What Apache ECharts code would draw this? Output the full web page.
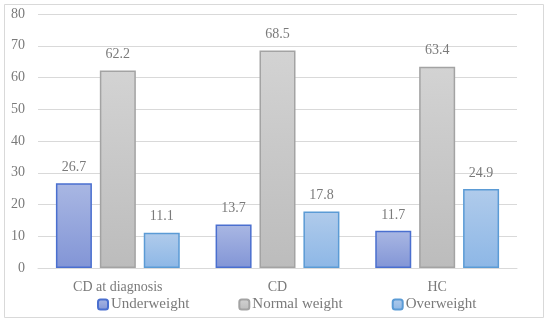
<!DOCTYPE html>
<html><head><meta charset="utf-8">
<script src="https://cdn.jsdelivr.net/npm/echarts@6/dist/echarts.min.js"></script>
<style>html,body{margin:0;padding:0;background:#fff}#c{width:550px;height:323px}</style>
</head><body><div id="c"></div>
<script>
const categories = ['CD at diagnosis', 'CD', 'HC'];
const underweight = [26.7, 13.7, 11.7];
const normalWeight = [62.2, 68.5, 63.4];
const overweight = [11.1, 17.8, 24.9];
const yTicks = [0, 10, 20, 30, 40, 50, 60, 70, 80];

const font = '"Liberation Serif", "DejaVu Serif", serif';
const txt = '#7a7a7a';
function grad(a, b) {
  return new echarts.graphic.LinearGradient(0, 0, 0, 1, [{offset: 0, color: a}, {offset: 1, color: b}]);
}
const lbl = {show: true, position: 'top', distance: 9, color: txt, fontFamily: font, fontSize: 14};
const chart = echarts.init(document.getElementById('c'));
chart.setOption({
  animation: false,
  graphic: [{type: 'rect', shape: {x: 4.5, y: 4.5, width: 539, height: 313}, style: {fill: 'none', stroke: '#d9d9d9', lineWidth: 1}, silent: true}],
  grid: {left: 38, right: 33, top: 14, bottom: 55, containLabel: false},
  legend: {
    top: 292, left: 92, itemWidth: 10, itemHeight: 10, itemGap: 49,
    textStyle: {color: txt, fontFamily: font, fontSize: 15, padding: [0, 0, 0, -2]},
    data: ['Underweight', 'Normal weight', 'Overweight']
  },
  xAxis: {
    type: 'category', data: categories,
    axisLine: {lineStyle: {color: '#d9d9d9'}}, axisTick: {show: false},
    axisLabel: {color: txt, fontFamily: font, fontSize: 14, margin: 12}
  },
  yAxis: {
    type: 'value', min: yTicks[0], max: yTicks[yTicks.length - 1], interval: 10,
    axisLine: {show: false}, axisTick: {show: false},
    axisLabel: {color: txt, fontFamily: font, fontSize: 14, margin: 13},
    splitLine: {lineStyle: {color: '#d9d9d9'}}
  },
  series: [
    {name: 'Underweight', type: 'bar', data: underweight, barWidth: 36, barGap: '22%', label: lbl,
      itemStyle: {color: grad('#a9b7e3', '#8295d6'), borderColor: '#4a6fcf', borderWidth: 1.5}},
    {name: 'Normal weight', type: 'bar', data: normalWeight, barWidth: 36, barGap: '22%', label: lbl,
      itemStyle: {color: grad('#d3d3d3', '#bcbcbc'), borderColor: '#a3a3a3', borderWidth: 1.5}},
    {name: 'Overweight', type: 'bar', data: overweight, barWidth: 36, barGap: '22%', label: lbl,
      itemStyle: {color: grad('#b0cbeb', '#8db7e6'), borderColor: '#5b9bd5', borderWidth: 1.5}}
  ]
});
</script></body></html>
